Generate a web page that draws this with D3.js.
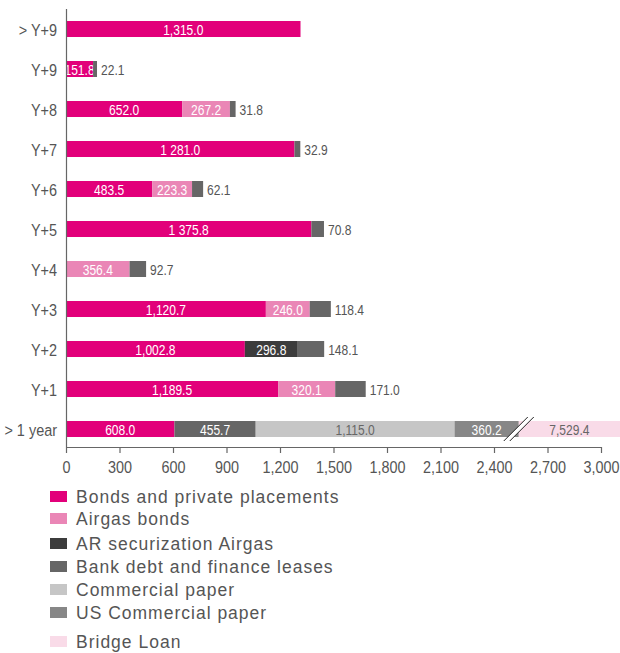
<!DOCTYPE html>
<html><head><meta charset="utf-8">
<script src="https://cdn.jsdelivr.net/npm/d3@7"></script>
<style>
body{margin:0;background:#fff;}
svg{display:block;}
</style></head>
<body>
<svg id="chart" width="620" height="653"></svg>
<script>
const categories = ["> Y+9","Y+9","Y+8","Y+7","Y+6","Y+5","Y+4","Y+3","Y+2","Y+1","> 1 year"];
const seriesNames = ["Bonds and private placements","Airgas bonds","AR securization Airgas","Bank debt and finance leases","Commercial paper","US Commercial paper","Bridge Loan"];
const bonds      = [1315.0, 151.8, 652.0, 1281.0, 483.5, 1375.8, 0, 1120.7, 1002.8, 1189.5, 608.0];
const airgas     = [0, 0, 267.2, 0, 223.3, 0, 356.4, 246.0, 0, 320.1, 0];
const arSecur    = [0, 0, 0, 0, 0, 0, 0, 0, 296.8, 0, 0];
const bankDebt   = [0, 22.1, 31.8, 32.9, 62.1, 70.8, 92.7, 118.4, 148.1, 171.0, 455.7];
const commPaper  = [0, 0, 0, 0, 0, 0, 0, 0, 0, 0, 1115.0];
const usCommPaper= [0, 0, 0, 0, 0, 0, 0, 0, 0, 0, 360.2];
const bridgeLoan = [0, 0, 0, 0, 0, 0, 0, 0, 0, 0, 7529.4];
const tickValues = [0,300,600,900,1200,1500,1800,2100,2400,2700,3000];
// labels written with a space as thousands separator in the source
const spaceSeparated = ["Y+7","Y+5"];

const series = [bonds, airgas, arSecur, bankDebt, commPaper, usCommPaper, bridgeLoan];
const colors = ["#e2007a","#ea86b6","#3c3c3c","#666666","#c6c6c6","#878787","#f9dbe8"];
const labelColors = ["#fff","#fff","#fff","#fff","#666","#fff","#666"];

const svg = d3.select("#chart");
const FONT = "'Liberation Sans',Arial,Helvetica,sans-serif";
const x = d3.scaleLinear().domain([0,3000]).range([66,601]);
const y = d3.scaleBand().domain(categories).range([9,449]).paddingInner(0.6).paddingOuter(0.3);
const W = 620;

const fmtComma = d3.format(",.1f");
function fmt(v, cat, si){
  let s = fmtComma(v);
  if (si === 0 && spaceSeparated.includes(cat)) s = s.replace(",", " ");
  return s;
}
// condensed-looking text via horizontal scaling
function ctext(g, tx, ty, str, size, anchor, fill, sx){
  return g.append("text")
    .attr("transform", `translate(${tx},${ty}) scale(${sx},1)`)
    .attr("dy", "0.36em")
    .attr("text-anchor", anchor)
    .attr("font-family", FONT)
    .attr("font-size", size)
    .attr("fill", fill)
    .text(str);
}

categories.forEach((cat, ci) => {
  let acc = 0;
  const g = svg.append("g");
  const y0 = y(cat), h = y.bandwidth();
  series.forEach((arr, si) => {
    const v = arr[ci];
    if (!v) return;
    const x0 = x(acc), x1 = x(acc + v);
    acc += v;
    const visEnd = Math.min(x1, W);
    g.append("rect").attr("x", x0).attr("y", y0).attr("width", visEnd - x0).attr("height", h).attr("fill", colors[si]);
    const inside = !(si === 3 && cat !== "> 1 year");
    ctext(g, inside ? (x0 + visEnd) / 2 : visEnd + 4, y0 + h / 2 + 0.5, fmt(v, cat, si), 14,
      inside ? "middle" : "start", inside ? labelColors[si] : "#555", 0.86);
  });
});

// axis break marks on the last bar
{
  const cat = "> 1 year";
  const ci = categories.indexOf(cat);
  const bx = x(d3.sum(series.slice(0,6), a => a[ci]));
  const yc = y(cat) + y.bandwidth() / 2;
  const dx = 12, dy = 12;
  svg.append("polygon")
    .attr("points", `${bx-dx-3},${yc+dy} ${bx+dx-3},${yc-dy} ${bx+dx+3},${yc-dy} ${bx-dx+3},${yc+dy}`)
    .attr("fill", "#fff");
  [-3, 3].forEach(o => {
    svg.append("line")
      .attr("x1", bx - dx + o).attr("y1", yc + dy)
      .attr("x2", bx + dx + o).attr("y2", yc - dy)
      .attr("stroke", "#222").attr("stroke-width", 1);
  });
}

// y axis line
svg.append("line").attr("x1", 66.5).attr("x2", 66.5).attr("y1", 9).attr("y2", 447)
  .attr("stroke", "#666").attr("stroke-width", 1.2);

// category labels
const cg = svg.append("g");
categories.forEach(cat => ctext(cg, 57, y(cat) + y.bandwidth() / 2 + 0.5, cat, 17, "end", "#555", 0.85));

// x axis
const xAxis = svg.append("g").attr("transform", "translate(0,447)")
  .call(d3.axisBottom(x).tickValues(tickValues).tickSize(6).tickSizeOuter(0).tickFormat(d3.format(",")));
xAxis.select(".domain").attr("stroke", "#666").attr("stroke-width", 1.2);
xAxis.selectAll(".tick line").attr("stroke", "#666").attr("stroke-width", 1.2);
xAxis.selectAll(".tick text")
  .attr("font-family", FONT).attr("font-size", 16).attr("fill", "#555")
  .attr("y", 0).attr("dy", 0)
  .attr("transform", "translate(0,26) scale(0.9,1)");

// legend
const legendY = [491, 513, 538, 561, 584, 607, 636];
const lg = svg.append("g");
seriesNames.forEach((name, i) => {
  lg.append("rect").attr("x", 50).attr("y", legendY[i]).attr("width", 17).attr("height", 11).attr("fill", colors[i]);
  lg.append("text").attr("x", 76).attr("y", legendY[i] + 5.5).attr("dy", "0.36em")
    .attr("font-family", FONT).attr("font-size", 17.5).attr("letter-spacing", 1)
    .attr("fill", "#555").text(name);
});
</script>
</body></html>
